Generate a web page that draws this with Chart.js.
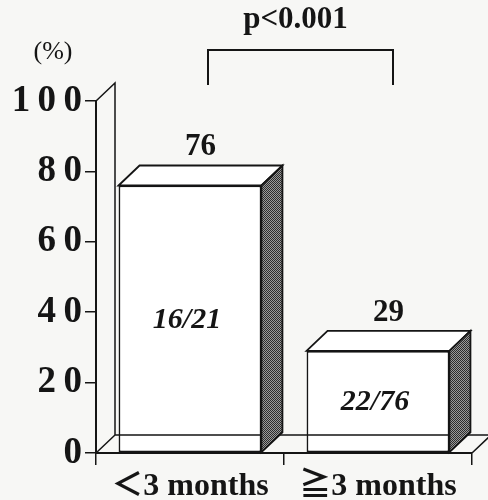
<!DOCTYPE html>
<html>
<head>
<meta charset="utf-8">
<script src="https://cdn.jsdelivr.net/npm/chart.js@4/dist/chart.umd.min.js"></script>
<style>
  html, body { margin: 0; padding: 0; background: #f7f7f5; }
  canvas { display: block; }
</style>
</head>
<body>
<canvas id="barChart" width="488" height="500"></canvas>
<script>
// data
const categories = ['＜3 months', '≧3 months'];
const percentages = [76, 29];
const fractions = ['16/21', '22/76'];
const yTickValues = [0, 20, 40, 60, 80, 100];
const pLabel = 'p<0.001';
const unitLabel = '(%)';

const SERIF = '"Liberation Serif", "Times New Roman", "Noto Sans CJK JP", serif';
const INK = '#151515';

// dotted grey fill for the bar sides
function makeHatch() {
    const c = document.createElement('canvas');
    c.width = 2; c.height = 2;
    const g = c.getContext('2d');
    g.fillStyle = '#9a9a9a'; g.fillRect(0, 0, 2, 2);
    g.fillStyle = '#2c2c2c'; g.fillRect(0, 0, 1, 1); g.fillRect(1, 1, 1, 1);
    return g.createPattern(c, 'repeat');
}

const depth3d = {
    id: 'depth3d',
    afterDatasetsDraw(chart) {
        const ctx = chart.ctx;
        const a = chart.chartArea;
        const meta = chart.getDatasetMeta(0);
        const hatch = makeHatch();
        ctx.save();
        ctx.strokeStyle = INK;
        ctx.lineWidth = 1.5;
        ctx.lineJoin = 'miter';

        // back wall + floor
        const wx = 19, wy = -18;
        ctx.beginPath();
        ctx.moveTo(a.left, a.top);
        ctx.lineTo(a.left + wx, a.top + wy);
        ctx.lineTo(a.left + wx, a.bottom + wy);
        ctx.lineTo(a.right + wx, a.bottom + wy);
        ctx.lineTo(a.right, a.bottom);
        ctx.moveTo(a.left, a.bottom);
        ctx.lineTo(a.left + wx, a.bottom + wy);
        ctx.stroke();

        // bar tops and sides
        const bx = 21, by = -20;
        ctx.lineWidth = 1.8;
        meta.data.forEach((bar, i) => {
            const p = bar.getProps(['x', 'y', 'base', 'width'], true);
            const l = p.x - p.width / 2, r = p.x + p.width / 2;

            ctx.beginPath();
            ctx.moveTo(l, p.y);
            ctx.lineTo(l + bx, p.y + by);
            ctx.lineTo(r + bx, p.y + by);
            ctx.lineTo(r, p.y);
            ctx.closePath();
            ctx.fillStyle = '#ffffff';
            ctx.fill();
            ctx.stroke();

            ctx.beginPath();
            ctx.moveTo(r, p.y);
            ctx.lineTo(r + bx, p.y + by);
            ctx.lineTo(r + bx, p.base + by);
            ctx.lineTo(r, p.base);
            ctx.closePath();
            ctx.fillStyle = hatch;
            ctx.fill();
            ctx.stroke();

            ctx.fillStyle = INK;
            ctx.textAlign = 'center';
            ctx.textBaseline = 'middle';
            ctx.font = 'bold 31px ' + SERIF;
            ctx.fillText(String(percentages[i]), p.x + bx / 2, p.y + by - 18);

            ctx.font = 'italic bold 30px ' + SERIF;
            ctx.fillText(fractions[i], p.x - 3, (p.y + p.base) / 2 + 1);
        });

        // significance bracket
        const b0 = meta.data[0], b1 = meta.data[1];
        const x0 = b0.x + 18, x1 = b1.x + 15;
        const yTop = a.top - 51, yBot = a.top - 16;
        ctx.lineWidth = 2;
        ctx.beginPath();
        ctx.moveTo(x0, yBot);
        ctx.lineTo(x0, yTop);
        ctx.lineTo(x1, yTop);
        ctx.lineTo(x1, yBot);
        ctx.stroke();
        ctx.font = 'bold 31px ' + SERIF;
        ctx.fillText(pLabel, (x0 + x1) / 2 - 5, a.top - 81);

        // unit label
        ctx.font = '26px ' + SERIF;
        ctx.fillText(unitLabel, a.left - 43, a.top - 49);
        ctx.restore();
    }
};

new Chart(document.getElementById('barChart'), {
    type: 'bar',
    data: {
        labels: categories,
        datasets: [{
            data: percentages,
            backgroundColor: '#ffffff',
            borderColor: INK,
            borderWidth: 1.8,
            borderSkipped: false,
            barPercentage: 0.76,
            categoryPercentage: 1
        }]
    },
    options: {
        responsive: false,
        animation: false,
        layout: { padding: { top: 101, right: 16, left: 0, bottom: 0 } },
        plugins: {
            legend: { display: false },
            tooltip: { enabled: false }
        },
        scales: {
            x: {
                afterFit: s => { s.height = 47; },
                border: { display: true, color: INK, width: 2 },
                grid: { offset: true, drawOnChartArea: false, drawTicks: true, tickLength: 12, color: INK, lineWidth: 1.5 },
                ticks: { color: INK, padding: 3, font: { family: SERIF, size: 32, weight: 'bold' } }
            },
            y: {
                min: 0,
                max: 100,
                afterFit: s => { s.width = 96; },
                afterBuildTicks: s => { s.ticks = yTickValues.map(v => ({ value: v })); },
                border: { display: true, color: INK, width: 2 },
                grid: { drawOnChartArea: false, drawTicks: true, tickLength: 11, color: INK, lineWidth: 1.5 },
                ticks: {
                    color: INK,
                    padding: 3,
                    font: { family: SERIF, size: 37, weight: 'bold' },
                    callback: v => String(v).split('').join('\u2009')
                }
            }
        }
    },
    plugins: [depth3d]
});
</script>
</body>
</html>
